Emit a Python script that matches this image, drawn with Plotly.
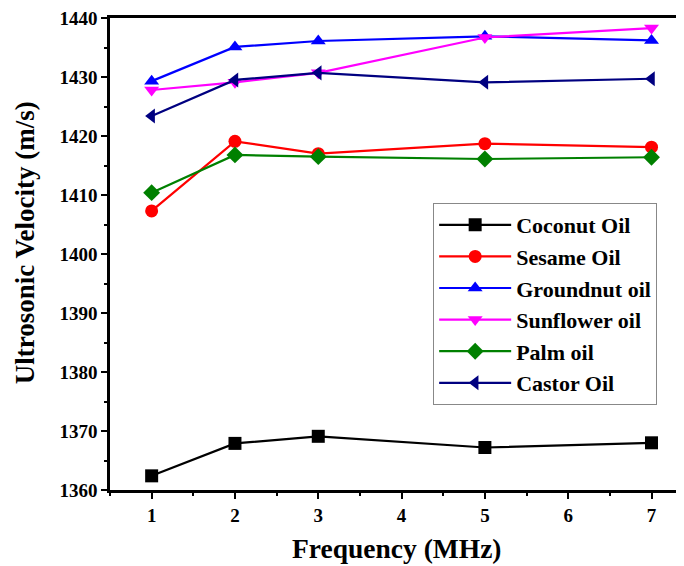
import plotly.graph_objects as go

freq = [1, 2, 3, 5, 7]
coconut = [1362.4, 1367.9, 1369.1, 1367.2, 1368.0]
sesame = [1407.3, 1419.1, 1417.0, 1418.7, 1418.1]
groundnut = [1429.3, 1435.1, 1436.1, 1436.9, 1436.2]
sunflower = [1427.8, 1429.1, 1430.7, 1436.7, 1438.3]
palm = [1410.4, 1416.8, 1416.5, 1416.1, 1416.4]
castor = [1423.4, 1429.5, 1430.7, 1429.1, 1429.7]

names = ["Coconut Oil", "Sesame Oil", "Groundnut oil", "Sunflower oil", "Palm oil", "Castor Oil"]
series = [coconut, sesame, groundnut, sunflower, palm, castor]
colors = ["#000000", "#ff0000", "#0000ff", "#ff00ff", "#008000", "#000080"]
symbols = ["square", "circle", "triangle-up", "triangle-down", "diamond", "triangle-left"]

FONT = "Liberation Serif"

fig = go.Figure()
for n, s, c, m in zip(names, series, colors, symbols):
    fig.add_trace(go.Scatter(
        x=freq, y=s, name=n, mode="lines+markers",
        line=dict(color=c, width=2.2),
        marker=dict(symbol=m, size=13, color=c),
    ))

axis_common = dict(
    showline=True, linecolor="black", linewidth=2.5, mirror=True,
    ticks="outside", ticklen=6, tickwidth=2, tickcolor="black",
    showgrid=False, zeroline=False, automargin=False,
    ticklabeloverflow="allow",
    tickfont=dict(family=FONT, size=19, color="black", weight="bold"),
)

fig.update_layout(
    width=676, height=558,
    margin=dict(l=102, r=0, t=10, b=76),
    paper_bgcolor="white", plot_bgcolor="white",
    xaxis=dict(
        range=[0.5, 7.39], tickvals=[1, 2, 3, 4, 5, 6, 7],
        minor=dict(dtick=0.5, tick0=0.5, ticks="outside", ticklen=3, tickwidth=2, tickcolor="black"),
        **axis_common,
    ),
    yaxis=dict(
        range=[1360, 1440], tickvals=[1360, 1370, 1380, 1390, 1400, 1410, 1420, 1430, 1440],
        minor=dict(dtick=5, tick0=1355, ticks="outside", ticklen=3, tickwidth=2, tickcolor="black"),
        **axis_common,
    ),
    legend=dict(
        x=0.563, y=0.608, xanchor="left", yanchor="top",
        bordercolor="#888888", borderwidth=1, bgcolor="white",
        font=dict(family=FONT, size=22, color="black", weight="bold"),
        tracegroupgap=0, itemwidth=72, entrywidth=160,
    ),
    showlegend=True,
    annotations=[
        dict(text="Frequency (MHz)", xref="paper", yref="paper", x=0.5, y=-0.123,
             xanchor="center", yanchor="middle", showarrow=False,
             font=dict(family=FONT, size=27.5, color="black", weight="bold")),
        dict(text="Ultrosonic Velocity (m/s)", xref="paper", yref="paper", x=-0.148, y=0.523,
             xanchor="center", yanchor="middle", showarrow=False, textangle=-90,
             font=dict(family=FONT, size=27, color="black", weight="bold")),
    ],
)

fig.write_html("out.html")
